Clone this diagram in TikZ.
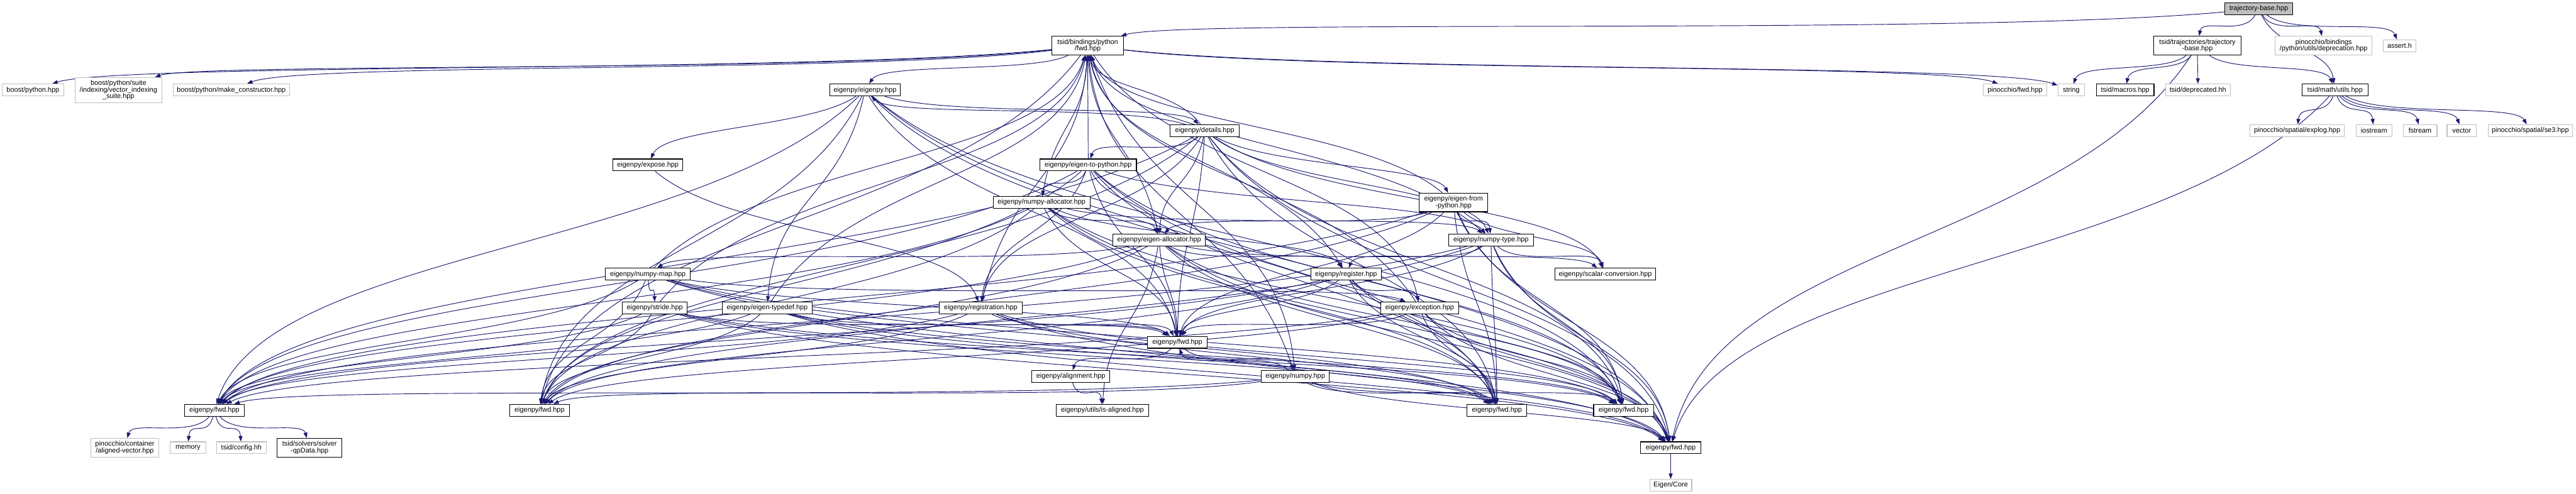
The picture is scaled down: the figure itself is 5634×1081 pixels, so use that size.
\documentclass[tikz,border=0pt]{standalone}
\usepackage{fontspec}
\newfontfamily\nodefont{Liberation Sans}
\usetikzlibrary{arrows.meta,backgrounds}
\definecolor{mb}{HTML}{191970}
\definecolor{g75}{HTML}{BFBFBF}
\tikzset{
  base/.style={draw, rectangle, inner sep=0pt, align=center, fill=white, line width=0.15mm,
    font={\nodefont\fontsize{4.27pt}{4.27pt}\selectfont}},
  bk/.style={base, draw=black},
  gr/.style={base, draw=g75},
  rt/.style={base, draw=black, fill=g75},
  h1/.style={minimum height=2.6mm},
  h2/.style={minimum height=4.1mm},
  h3/.style={minimum height=5.5mm},
  dep/.style={draw=mb, line width=0.13mm, -{Triangle[length=1.2mm,width=0.85mm]}}
}
\newcommand\N[6]{\node[#1,minimum width={#5*0.1mm}] (#2) at (#3,#4) {#6};%
  \expandafter\gdef\csname Xp#2\endcsname{#3}\expandafter\gdef\csname Yp#2\endcsname{#4}}
\newcommand\ed[3][]{%
  \pgfmathsetmacro\edxa{\csname Xp#2\endcsname}%
  \pgfmathsetmacro\edya{\csname Yp#2\endcsname}%
  \pgfmathsetmacro\edxb{\csname Xp#3\endcsname}%
  \pgfmathsetmacro\edyb{\csname Yp#3\endcsname}%
  \pgfmathsetmacro\eddx{\edxb-\edxa}%
  \pgfmathsetmacro\eddy{\edyb-\edya}%
  \pgfmathsetmacro\edv{ifthenelse(\eddy>=0,max(0.5*\eddy,60),min(0.5*\eddy,-60))}%
  \pgfmathsetmacro\edcax{\edxa+0.25*\eddx}%
  \pgfmathsetmacro\edcay{\edya+\edv}%
  \pgfmathsetmacro\edcbx{\edxb-0.08*\eddx}%
  \pgfmathsetmacro\edcby{\edyb-\edv}%
  \draw[dep,#1] (#2) .. controls (\edcax,\edcay) and (\edcbx,\edcby) .. (#3);}
\begin{document}
\begin{tikzpicture}[x=0.1mm,y=-0.1mm]
\useasboundingbox (0,0) rectangle (5634,1081);
% nodes
\N{rt,h1}{R}{4940}{19}{148}{trajectory-base.hpp}
\N{bk,h2}{TF}{2379}{100}{156}{tsid/bindings/python\\/fwd.hpp}
\N{bk,h2}{TT}{4806}{100}{191}{tsid/trajectories/trajectory\\-base.hpp}
\N{gr,h2}{DEP}{5082}{100}{212}{pinocchio/bindings\\/python/utils/deprecation.hpp}
\N{gr,h1}{AS}{5248}{100}{72}{assert.h}
\N{gr,h1}{BP}{72}{197}{135}{boost/python.hpp}
\N{gr,h3}{VIS}{259}{197}{190}{boost/python/suite\\/indexing/vector\_indexing\\\_suite.hpp}
\N{gr,h1}{MC}{506}{197}{254}{boost/python/make\_constructor.hpp}
\N{bk,h1}{EP}{1892}{197}{155}{eigenpy/eigenpy.hpp}
\N{gr,h1}{PF}{4407}{197}{140}{pinocchio/fwd.hpp}
\N{gr,h1}{STR}{4530}{197}{58}{string}
\N{bk,h1}{MAC}{4648}{197}{126}{tsid/macros.hpp}
\N{gr,h1}{DPR}{4807}{197}{142}{tsid/deprecated.hh}
\N{bk,h1}{MU}{5107}{197}{145}{tsid/math/utils.hpp}
\N{bk,h1}{DET}{2635}{286}{151}{eigenpy/details.hpp}
\N{gr,h1}{EXL}{5024}{286}{207}{pinocchio/spatial/explog.hpp}
\N{gr,h1}{IOS}{5192}{286}{78}{iostream}
\N{gr,h1}{FST}{5293}{286}{74}{fstream}
\N{gr,h1}{VEC}{5384}{286}{64}{vector}
\N{gr,h1}{SE3}{5534}{286}{185}{pinocchio/spatial/se3.hpp}
\N{bk,h1}{EXP}{1417}{361}{153}{eigenpy/expose.hpp}
\N{bk,h1}{E2P}{2380}{361}{211}{eigenpy/eigen-to-python.hpp}
\N{bk,h1}{NAL}{2278}{443}{212}{eigenpy/numpy-allocator.hpp}
\N{bk,h2}{EFP}{3179}{443}{150}{eigenpy/eigen-from\\-python.hpp}
\N{bk,h1}{EAL}{2535}{525}{202}{eigenpy/eigen-allocator.hpp}
\N{bk,h1}{NT}{3261}{525}{185}{eigenpy/numpy-type.hpp}
\N{bk,h1}{NM}{1417}{600}{185}{eigenpy/numpy-map.hpp}
\N{bk,h1}{REG}{2944}{600}{154}{eigenpy/register.hpp}
\N{bk,h1}{SC}{3511}{600}{221}{eigenpy/scalar-conversion.hpp}
\N{bk,h1}{ST}{1432}{674}{142}{eigenpy/stride.hpp}
\N{bk,h1}{ETD}{1678}{674}{196}{eigenpy/eigen-typedef.hpp}
\N{bk,h1}{RGN}{2145}{674}{181}{eigenpy/registration.hpp}
\N{bk,h1}{EXC}{3105}{674}{171}{eigenpy/exception.hpp}
\N{bk,h1}{FC}{2575}{749}{131}{eigenpy/fwd.hpp}
\N{bk,h1}{AL}{2342}{824}{171}{eigenpy/alignment.hpp}
\N{bk,h1}{NP}{2833}{824}{149}{eigenpy/numpy.hpp}
\N{bk,h1}{FA}{469}{898}{131}{eigenpy/fwd.hpp}
\N{bk,h1}{FB}{1180}{898}{131}{eigenpy/fwd.hpp}
\N{bk,h1}{ISA}{2411}{898}{203}{eigenpy/utils/is-aligned.hpp}
\N{bk,h1}{FD}{3274}{898}{131}{eigenpy/fwd.hpp}
\N{bk,h1}{FE}{3551}{898}{131}{eigenpy/fwd.hpp}
\N{bk,h1}{FF}{3654}{980}{131}{eigenpy/fwd.hpp}
\N{gr,h2}{AV}{273}{980}{149}{pinocchio/container\\/aligned-vector.hpp}
\N{gr,h1}{MEM}{411}{980}{78}{memory}
\N{gr,h1}{CFG}{528}{980}{109}{tsid/config.hh}
\N{bk,h2}{QP}{677}{980}{141}{tsid/solvers/solver\\-qpData.hpp}
\N{gr,h1}{EC}{3654}{1062}{92}{Eigen/Core}
% edges
\begin{pgfonlayer}{background}
\ed{R}{TF}\ed{R}{TT}\ed{R}{DEP}\ed{R}{AS}\ed{R}{MU}
\ed{TT}{STR}\ed{TT}{MAC}\ed{TT}{DPR}\ed{TT}{MU}\ed{TT}{FF}
\ed{MU}{EXL}\ed{MU}{IOS}\ed{MU}{FST}\ed{MU}{VEC}\ed{MU}{SE3}\ed{MU}{FF}
\ed{TF}{EP}\ed{TF}{BP}\ed{TF}{VIS}\ed{TF}{MC}\ed{TF}{PF}\ed{TF}{STR}\ed{TF}{FB}\ed{TF}{EXC}\ed{TF}{NP}
\ed{EP}{DET}\ed{EP}{EXP}\ed{EP}{ETD}
\ed{DET}{EP}\ed{DET}{E2P}\ed{DET}{EAL}\ed{DET}{EFP}\ed{DET}{NT}\ed{DET}{SC}\ed{DET}{RGN}
\ed{E2P}{NAL}\ed{E2P}{EAL}\ed{E2P}{NT}\ed{E2P}{RGN}
\ed{NAL}{EAL}\ed{NAL}{NT}\ed{NAL}{REG}
\ed{EAL}{NM}\ed{EAL}{REG}\ed{EAL}{SC}\ed{EAL}{ISA}
\ed{EFP}{NT}\ed{EFP}{EAL}\ed{EFP}{SC}
\ed{NT}{SC}\ed{NT}{REG}
\ed{REG}{EXC}
\ed{NM}{ST}\ed{NM}{EXC}
\ed{EXP}{RGN}
\ed{FC}{AL}\ed{FC}{NP}
\ed{AL}{ISA}
\ed{FA}{AV}\ed{FA}{MEM}\ed{FA}{CFG}\ed{FA}{QP}
\ed{FF}{EC}
\foreach \t in {FA,FB,FC,FD,FE,FF}{\ed{EP}{\t}}
\foreach \s in {DET,E2P,NAL,EAL,EFP,NT,REG,NM,ST,ETD,RGN,EXC,NP}{%
  \foreach \t in {TF,FA,FB,FC,FD,FE,FF}{\ed{\s}{\t}}}
\end{pgfonlayer}
\end{tikzpicture}
\end{document}
